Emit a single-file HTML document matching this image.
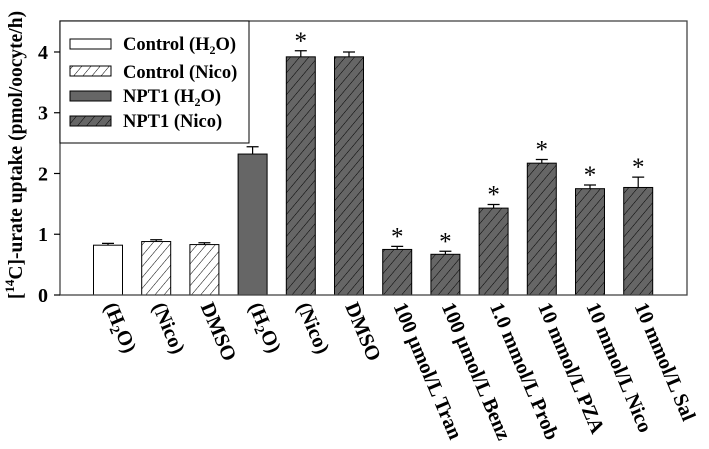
<!DOCTYPE html>
<html><head><meta charset="utf-8"><style>
html,body{margin:0;padding:0;background:#fff;}
svg{display:block;font-family:"Liberation Serif",serif;font-weight:bold;}
</style></head><body>
<svg id="chart" width="709" height="449" viewBox="0 0 709 449">
<defs>
<pattern id="hatchW" patternUnits="userSpaceOnUse" width="7" height="7" patternTransform="rotate(40)">
<rect width="7" height="7" fill="#fff"/><line x1="0" y1="0" x2="0" y2="7" stroke="#000" stroke-width="1"/></pattern>
<pattern id="hatchG" patternUnits="userSpaceOnUse" width="7" height="7" patternTransform="rotate(40)">
<rect width="7" height="7" fill="#666"/><line x1="0" y1="0" x2="0" y2="7" stroke="#000" stroke-width="1"/></pattern>
</defs>
<g id="bars"></g>
<g id="axes"></g>
<text transform="translate(22,155) rotate(-90)" text-anchor="middle" font-size="19.5">[<tspan font-size="13" dy="-8">14</tspan><tspan dy="8">C]-urate uptake (pmol/oocyte/h)</tspan></text>
<g>
<rect x="60" y="21" width="189" height="122" fill="#fff" stroke="#000" stroke-width="1"/>
<rect x="70" y="39" width="41" height="10" fill="#fff" stroke="#000"/>
<text x="123" y="50" font-size="18.5">Control (H<tspan font-size="12" dy="4">2</tspan><tspan dy="-4">O)</tspan></text>
<rect x="70" y="66" width="41" height="10" fill="url(#hatchW)" stroke="#000"/>
<text x="123" y="78" font-size="18.5">Control (Nico)</text>
<rect x="70" y="91" width="41" height="10" fill="#666" stroke="#000"/>
<text x="123" y="102" font-size="18.5">NPT1 (H<tspan font-size="12" dy="4">2</tspan><tspan dy="-4">O)</tspan></text>
<rect x="70" y="116" width="41" height="10" fill="url(#hatchG)" stroke="#000"/>
<text x="123" y="127" font-size="18.5">NPT1 (Nico)</text>
</g>
</svg>
<script>
const categories = ["(H2O)","(Nico)","DMSO","(H2O)","(Nico)","DMSO","100 μmol/L Tran","100 μmol/L Benz","1.0 mmol/L Prob","10 mmol/L PZA","10 mmol/L Nico","10 mmol/L Sal"];
const values = [0.82,0.88,0.83,2.32,3.92,3.92,0.75,0.67,1.43,2.17,1.75,1.77];
const errors = [0.03,0.03,0.03,0.12,0.10,0.08,0.05,0.05,0.06,0.06,0.06,0.17];
const groups = ["ctrlH2O","ctrlNico","ctrlNico","nptH2O","nptNico","nptNico","nptNico","nptNico","nptNico","nptNico","nptNico","nptNico"];
const significant = [false,false,false,false,true,false,true,true,true,true,true,true];
const yTicks = [0,1,2,3,4];

const NS="http://www.w3.org/2000/svg";
const X0=60,X1=687,Y0=295,YT=21,YMAX=4.51;
const step=48.2, first=108, bw=29;
const xScale=i=>first+i*step;
const yScale=v=>Y0-(v/YMAX)*(Y0-YT);
const fills={ctrlH2O:"#fff",ctrlNico:"url(#hatchW)",nptH2O:"#666",nptNico:"url(#hatchG)"};
function mk(tag,attrs,parent){const e=document.createElementNS(NS,tag);for(const k in attrs)e.setAttribute(k,attrs[k]);parent.appendChild(e);return e;}
const bars=document.getElementById('bars'), axes=document.getElementById('axes');
values.forEach((v,i)=>{
  const cx=xScale(i), top=yScale(v), et=yScale(v+errors[i]);
  const r=mk('rect',{x:cx-bw/2,y:top,width:bw,height:Y0-top,fill:fills[groups[i]],stroke:"#000","stroke-width":1},bars);
  
  
  const e=mk('path',{d:`M${cx},${top}V${et}M${cx-6},${et}H${cx+6}`,stroke:"#000","stroke-width":1.2,fill:"none"},bars);
  
  
  if(significant[i]){
    const s=mk('text',{x:cx,y:et-2,"text-anchor":"middle","font-size":"25","font-weight":"normal"},bars);
    s.textContent="*";
    
    
  }
  const t=mk('text',{transform:`translate(${cx-4},306) rotate(67)`,"font-size":"20.5"},axes);
  const lab=categories[i];
  if(lab==="(H2O)"){t.innerHTML='(H<tspan font-size="14" dy="4">2</tspan><tspan dy="-4">O)</tspan>';}
  else t.textContent=lab;
  
  
});
const frame=mk('rect',{x:X0,y:YT,width:X1-X0,height:Y0-YT,fill:"none",stroke:"#444","stroke-width":1.3},axes);


yTicks.forEach(t=>{
  const y=yScale(t);
  const l=mk('line',{x1:X0-6,x2:X0,y1:y,y2:y,stroke:"#000","stroke-width":1.2},axes);
  
  
  const tx=mk('text',{x:X0-12,y:y+7,"text-anchor":"end","font-size":"20"},axes);
  tx.textContent=t;
  
  
});
</script>
</body></html>
